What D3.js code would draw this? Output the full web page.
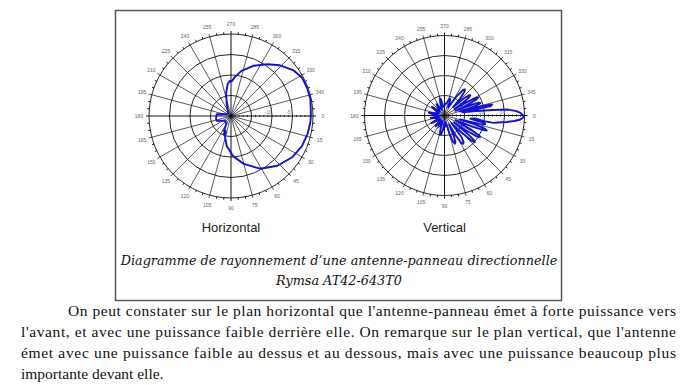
<!DOCTYPE html>
<html>
<head>
<meta charset="utf-8">
<script src="https://cdn.jsdelivr.net/npm/d3@7"></script>
<style>
  body { margin: 0; background: #fff; }
  svg { display: block; }
</style>
</head>
<body>
<div id="chart"></div>
<script>
// angle labels round each plot, degrees clockwise from the right
const angleLabels = [0, 15, 30, 45, 60, 75, 90, 105, 120, 135, 150, 165,
                     180, 195, 210, 225, 240, 255, 270, 285, 300, 315, 330, 345];
// rings in dB, center of the plot is -20 dB
const ringLevels = [-15, -10, -5, 0];
const ringLabels = [{ level: -10, text: "-10" }, { level: -5, text: "-5" }];

// horizontal plane pattern: [angle deg, gain dB]
const horizontalPattern = [
  [0, -0.5], [5, -0.6], [13, -0.8], [23, -1.2], [34, -2.0], [47, -3.4], [61, -5.3],
  [75, -7.9], [87, -10.2], [98, -12.6], [104, -14.3], [109, -15.3], [106, -15.8],
  [112, -15.2], [111, -16.2], [116, -16.0], [118, -17.2], [121, -17.9], [142, -18.1],
  [162, -16.3], [171, -16.3], [187, -16.5], [196, -18.5], [225, -19.1], [251, -16.7],
  [258, -14.3], [264, -12.2], [268, -11.4], [271, -11.6], [275, -10.6], [283, -8.7],
  [294, -6.6], [305, -4.6], [314, -2.8], [324, -1.1], [332, -0.3], [340, -0.2],
  [348, -0.2], [360, -0.5]
];

// vertical plane pattern: [angle deg, gain dB]
const verticalPattern = [
  [0, -0.3], [1.5, -0.3], [3, -1], [4.5, -2.5], [5.9, -4.3], [7.5, -6.5], [8.6, -7.6],
  [8, -10], [5.6, -12.3], [7, -13.5],
  [9, -12], [10.5, -9.8], [12, -9.6], [13.5, -11], [14.5, -16],
  [16, -12.5], [18, -9.4], [19.5, -8.8], [20.5, -9.6], [22, -13], [23, -17],
  [28, -12.5], [30, -10], [31.5, -9.6], [33, -10.4], [34.5, -13.5], [36, -17],
  [38.5, -12.5], [40, -10.2], [41.5, -9.9], [43, -10.8], [45, -14], [47, -17.5],
  [52, -13], [54.5, -11.8], [56.5, -11.5], [58.5, -12], [61, -14.5], [63, -17.5],
  [66, -14], [68, -12.7], [70, -12.5], [72, -13.2], [75, -15.5], [78, -18],
  [84, -17.2], [88, -18.6],
  [96, -16.5], [100, -15.2], [103, -15], [106, -16.2], [110, -18.5],
  [115, -17.2], [118, -16.8], [121, -18.5],
  [130, -16.5], [135, -18.6], [150, -16.2], [155, -18.6], [170, -16.5], [175, -18.6],
  [190, -16], [200, -18.5], [210, -17.3], [215, -16.2], [220, -18.5],
  [235, -16.5], [245, -18.5],
  [252, -16.5], [255, -15.6], [258, -15.9], [262, -17.8],
  [282, -16.5], [287, -15.5], [290, -15.8], [294, -17.8],
  [302, -14.5], [306, -12], [308, -11.7], [310, -12.2], [313, -14.5], [316, -17],
  [318.5, -13.5], [320.5, -12], [322, -11.8], [323.5, -12.4], [325.5, -14.5], [327, -17],
  [329, -13.5], [330.5, -11], [332, -10.5], [333.5, -11.2], [335.5, -14.5], [337, -17],
  [338.5, -12.5], [339.5, -10.8], [341, -10.5], [342.5, -11.5], [344, -14], [345, -16],
  [346, -9.8], [347, -7.8], [348.5, -8.2], [350, -15.5],
  [352, -12], [353.5, -7.7], [354.5, -4.3], [356.5, -2], [358, -1], [360, -0.3]
];

const plotTitles = ["Horizontal", "Vertical"];
const captionLines = [
  "Diagramme de rayonnement d\u2019une antenne-panneau directionnelle",
  "Rymsa AT42-643T0"
];
const paragraphLines = [
  "On peut constater sur le plan horizontal que l'antenne-panneau émet à forte puissance vers",
  "l'avant, et avec une puissance faible derrière elle. On remarque sur le plan vertical, que l'antenne",
  "émet avec une puissance faible au dessus et au dessous, mais avec une puissance beaucoup plus",
  "importante devant elle."
];

const width = 692, height = 385;

const svg = d3.select("#chart")
  .append("svg")
  .attr("width", width)
  .attr("height", height)
  .style("background", "#fff");

// frame round the figure
svg.append("rect")
  .attr("x", 115.5).attr("y", 10.5)
  .attr("width", 446).attr("height", 290)
  .attr("fill", "none")
  .attr("stroke", "#555")
  .attr("stroke-width", 1.5);

function drawPolar(cx, cy, R, data, title) {
  const g = svg.append("g").attr("transform", "translate(" + cx + "," + cy + ")");

  const r = d3.scaleLinear().domain([-20, 0]).range([0, R]);
  // screen angle: 0 on the right, growing clockwise
  const rad = d3.scaleLinear().domain([0, 360]).range([0, 2 * Math.PI]);

  // rings
  g.selectAll(".ring")
    .data(ringLevels)
    .enter().append("circle")
    .attr("r", d => r(d))
    .attr("fill", "none")
    .attr("stroke", "#111")
    .attr("stroke-width", 0.9);

  // spokes
  g.selectAll(".spoke")
    .data(angleLabels)
    .enter().append("line")
    .attr("x1", 0).attr("y1", 0)
    .attr("x2", d => (R + 3) * Math.cos(rad(d)))
    .attr("y2", d => (R + 3) * Math.sin(rad(d)))
    .attr("stroke", "#111")
    .attr("stroke-width", d => d % 90 === 0 ? 1 : 0.7);

  // minor ticks on the outer ring
  g.selectAll(".otick")
    .data(d3.range(0, 360, 5).filter(d => d % 15 !== 0))
    .enter().append("line")
    .attr("x1", d => R * Math.cos(rad(d)))
    .attr("y1", d => R * Math.sin(rad(d)))
    .attr("x2", d => (R + 2) * Math.cos(rad(d)))
    .attr("y2", d => (R + 2) * Math.sin(rad(d)))
    .attr("stroke", "#111")
    .attr("stroke-width", 1);

  // dB ticks along the 0 degree axis
  g.selectAll(".rtick")
    .data(d3.range(-19, 0, 1))
    .enter().append("line")
    .attr("x1", d => r(d)).attr("x2", d => r(d))
    .attr("y1", -1).attr("y2", 1)
    .attr("stroke", "#111")
    .attr("stroke-width", 0.8);

  g.selectAll(".rlabel")
    .data(ringLabels)
    .enter().append("text")
    .attr("x", d => r(d.level) - 4)
    .attr("y", -2)
    .attr("text-anchor", "middle")
    .attr("font-family", "Liberation Sans, Arial, sans-serif")
    .attr("font-size", 4.5)
    .attr("fill", "#777")
    .text(d => d.text);

  // angle labels
  g.selectAll(".alabel")
    .data(angleLabels)
    .enter().append("text")
    .attr("x", d => (R + 10) * Math.cos(rad(d)))
    .attr("y", d => (R + 10) * Math.sin(rad(d)))
    .attr("text-anchor", "middle")
    .attr("dominant-baseline", "central")
    .attr("font-family", "Liberation Sans, Arial, sans-serif")
    .attr("font-size", 5)
    .attr("fill", "#666")
    .text(d => d);

  // pattern
  const line = d3.lineRadial()
    .angle(d => rad(d[0]) + Math.PI / 2)
    .radius(d => r(d[1]));

  g.append("path")
    .datum(data)
    .attr("d", line)
    .attr("fill", "none")
    .attr("stroke", "#1212d6")
    .attr("stroke-width", 1.9)
    .attr("stroke-linejoin", "round");

  // title under the plot
  svg.append("text")
    .attr("x", cx)
    .attr("y", 232)
    .attr("text-anchor", "middle")
    .attr("font-family", "Liberation Sans, Arial, sans-serif")
    .attr("font-size", 13)
    .attr("fill", "#222")
    .text(title);
}

drawPolar(231, 116, 82, horizontalPattern, plotTitles[0]);
drawPolar(444.5, 115.5, 80, verticalPattern, plotTitles[1]);

// caption
svg.selectAll(".caption")
  .data(captionLines)
  .enter().append("text")
  .attr("x", 339)
  .attr("y", (d, i) => 265 + i * 20)
  .attr("text-anchor", "middle")
  .attr("font-family", "DejaVu Serif, serif")
  .attr("font-style", "italic")
  .attr("font-size", 12.8)
  .attr("fill", "#111")
  .text(d => d);

// paragraph, justified
const paraX = [68, 21, 21, 21];
const paraRight = 676;
svg.selectAll(".para")
  .data(paragraphLines)
  .enter().append("text")
  .attr("x", (d, i) => paraX[i])
  .attr("y", (d, i) => 316 + i * 21)
  .attr("font-family", "Liberation Serif, Times New Roman, serif")
  .attr("font-size", 15.5)
  .attr("fill", "#111")
  .each(function (d, i) {
    if (i < paragraphLines.length - 1) {
      d3.select(this)
        .attr("textLength", paraRight - paraX[i])
        .attr("lengthAdjust", "spacing");
    }
  })
  .text(d => d);
</script>
</body>
</html>
